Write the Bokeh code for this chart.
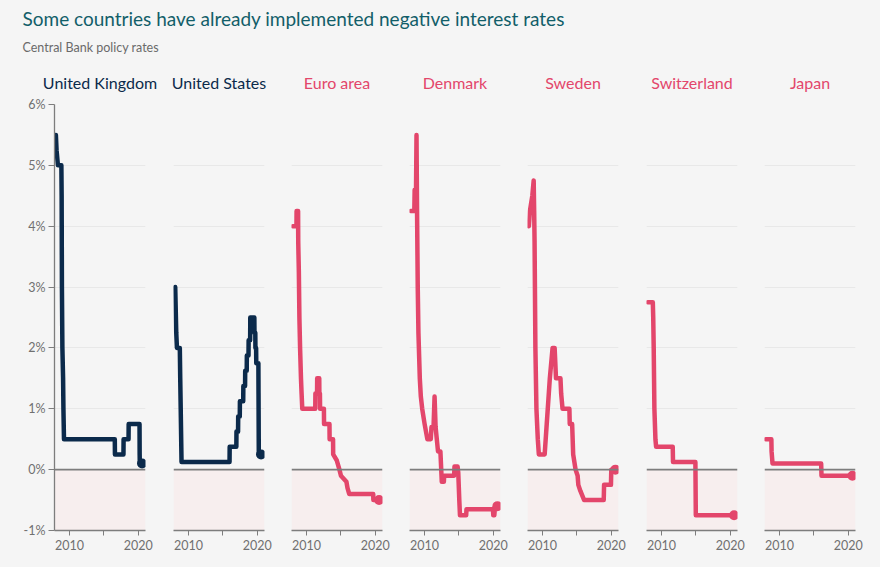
from bokeh.plotting import figure
from bokeh.layouts import column, row
from bokeh.models import (Range1d, FixedTicker, PrintfTickFormatter, Span,
                          BoxAnnotation, Grid)
from bokeh.core.properties import value
from bokeh.embed import file_html
from bokeh.resources import INLINE

TITLE = "Some countries have already implemented negative interest rates"
SUBTITLE = "Central Bank policy rates"

countries = ["United Kingdom", "United States", "Euro area", "Denmark",
             "Sweden", "Switzerland", "Japan"]
below_zero = [False, False, True, True, True, True, True]

uk_dates = [2008.0, 2008.1, 2008.3, 2008.8, 2008.84, 2008.88, 2008.95, 2009.05,
            2009.1, 2009.18, 2016.58, 2016.6, 2017.84, 2017.86, 2018.58, 2018.6,
            2020.18, 2020.2, 2020.22, 2020.55]
uk_rates = [5.5, 5.25, 5.0, 5.0, 4.5, 3.0, 2.0, 1.5, 1.0, 0.5, 0.5, 0.25, 0.25,
            0.5, 0.5, 0.75, 0.75, 0.25, 0.1, 0.1]

us_dates = [2008.05, 2008.2, 2008.3, 2008.72, 2008.78, 2008.85, 2008.97, 2015.96,
            2015.98, 2016.95, 2016.97, 2017.2, 2017.22, 2017.45, 2017.47, 2017.95,
            2017.97, 2018.22, 2018.24, 2018.46, 2018.48, 2018.72, 2018.74, 2018.96,
            2018.98, 2019.57, 2019.59, 2019.71, 2019.73, 2019.83, 2019.85, 2020.16,
            2020.18, 2020.22, 2020.55]
us_rates = [3.0, 2.25, 2.0, 2.0, 1.5, 1.0, 0.125, 0.125, 0.375, 0.375, 0.625,
            0.625, 0.875, 0.875, 1.125, 1.125, 1.375, 1.375, 1.625, 1.625, 1.875,
            1.875, 2.125, 2.125, 2.5, 2.5, 2.25, 2.25, 2.0, 2.0, 1.75, 1.75, 1.25,
            0.25, 0.25]

ea_dates = [2008.0, 2008.52, 2008.54, 2008.76, 2008.78, 2008.87, 2008.95, 2009.05,
            2009.18, 2009.27, 2009.37, 2011.26, 2011.28, 2011.52, 2011.54, 2011.84,
            2011.86, 2011.94, 2011.96, 2012.52, 2012.54, 2013.33, 2013.35, 2013.85,
            2013.87, 2014.4, 2014.78, 2015.0, 2015.8, 2015.95, 2016.2, 2019.7,
            2019.72, 2020.55]
ea_rates = [4.0, 4.0, 4.25, 4.25, 3.75, 3.25, 2.5, 2.0, 1.5, 1.25, 1.0, 1.0, 1.25,
            1.25, 1.5, 1.5, 1.25, 1.25, 1.0, 1.0, 0.75, 0.75, 0.5, 0.5, 0.25, 0.15,
            0.0, -0.1, -0.2, -0.3, -0.4, -0.4, -0.5, -0.5]

dk_dates = [2008.0, 2008.5, 2008.55, 2008.75, 2008.82, 2008.9, 2009.0, 2009.1,
            2009.3, 2009.45, 2009.65, 2010.0, 2010.4, 2010.9, 2011.0, 2011.3,
            2011.45, 2011.6, 2011.95, 2012.3, 2012.5, 2012.8, 2012.85, 2014.3,
            2014.35, 2014.8, 2014.9, 2015.05, 2015.15, 2016.05, 2016.1, 2019.95,
            2020.0, 2020.15, 2020.25, 2020.6]
dk_rates = [4.25, 4.25, 4.6, 4.6, 5.5, 4.25, 3.0, 2.25, 1.5, 1.2, 1.0, 0.75, 0.5,
            0.5, 0.7, 0.7, 1.2, 0.7, 0.3, 0.3, -0.2, -0.2, -0.1, -0.1, 0.05, 0.05,
            -0.05, -0.5, -0.75, -0.75, -0.65, -0.65, -0.75, -0.75, -0.6, -0.6]

se_dates = [2008.0, 2008.15, 2008.5, 2008.7, 2008.77, 2008.83, 2008.95, 2009.1,
            2009.3, 2009.45, 2010.3, 2010.45, 2010.6, 2010.75, 2010.9, 2011.05,
            2011.25, 2011.45, 2011.75, 2011.85, 2011.95, 2012.6, 2012.7, 2012.9,
            2013.9, 2013.95, 2014.3, 2014.45, 2014.8, 2015.1, 2015.2, 2015.5,
            2016.05, 2018.9, 2018.95, 2019.95, 2020.0, 2020.6]
se_rates = [4.0, 4.25, 4.5, 4.75, 4.25, 3.75, 2.0, 1.0, 0.5, 0.25, 0.25, 0.5, 0.75,
            1.0, 1.25, 1.5, 1.75, 2.0, 2.0, 1.75, 1.5, 1.5, 1.25, 1.0, 1.0, 0.75,
            0.75, 0.25, 0.0, -0.1, -0.25, -0.35, -0.5, -0.5, -0.25, -0.25, 0.0, 0.0]

ch_dates = [2008.0, 2008.72, 2008.78, 2008.85, 2008.95, 2009.1, 2009.2, 2011.62,
            2011.66, 2014.92, 2014.98, 2020.55]
ch_rates = [2.75, 2.75, 2.5, 2.0, 1.0, 0.5, 0.375, 0.375, 0.125, 0.125, -0.75, -0.75]

jp_dates = [2008.0, 2008.8, 2008.83, 2008.97, 2016.05, 2016.1, 2020.6]
jp_rates = [0.5, 0.5, 0.3, 0.1, 0.1, -0.1, -0.1]

year_ticks = [2010, 2015, 2020]
rate_ticks = [-1, 0, 1, 2, 3, 4, 5, 6]

series = list(zip(countries, below_zero,
                  [uk_dates, us_dates, ea_dates, dk_dates, se_dates, ch_dates, jp_dates],
                  [uk_rates, us_rates, ea_rates, dk_rates, se_rates, ch_rates, jp_rates]))

# styling
BG = "#f5f5f5"
NAVY = "#0b2a4b"
PINK = "#e3466b"
TEAL = "#125e69"
AXIS_GREY = "#7d7d7d"
LABEL_GREY = "#707070"
FONT = "Lato"

X0, X1 = 2007.8, 2021.05
Y0, Y1 = -1.0, 6.0

# (total width, left border, right border) of each small multiple
panel_sizes = [(159, 54, 14), (118, 14, 13), (118, 14, 13), (118, 14, 13),
               (119, 14, 14), (118, 14, 13), (130, 14, 25)]
HEADER_H = 92
PANEL_H = 567 - HEADER_H

# horizontal centre of each panel's plotting area, in page pixels
centres = []
left = 0
for w, bl, br in panel_sizes:
    centres.append(left + bl + (w - bl - br) / 2)
    left += w

# header: chart title, subtitle and one heading per panel
header = figure(width=880, height=HEADER_H, x_range=Range1d(0, 880),
                y_range=Range1d(HEADER_H, 0),
                toolbar_location=None, output_backend="svg", min_border=0,
                x_axis_location=None, y_axis_location=None,
                background_fill_color=BG, border_fill_color=BG, outline_line_color=None)
header.grid.visible = False
header.text(x=[22], y=[18], text=[TITLE], text_font=value(FONT), text_font_size="19px",
            text_color=TEAL, text_baseline="middle", text_align="left")
header.text(x=[22], y=[47], text=[SUBTITLE], text_font=value(FONT), text_font_size="12.5px",
            text_color="#6a6a6a", text_baseline="middle", text_align="left")
header.text(x=centres, y=[82] * len(countries), text=countries,
            text_color=[PINK if n else NAVY for n in below_zero],
            text_font=value(FONT), text_font_size="16px",
            text_baseline="middle", text_align="center")

panels = []
for i, (name, neg, dates, rates) in enumerate(series):
    w, bl, br = panel_sizes[i]
    color = PINK if neg else NAVY
    p = figure(width=w, height=PANEL_H, x_range=Range1d(X0, X1), y_range=Range1d(Y0, Y1),
               toolbar_location=None, output_backend="svg",
               y_axis_location="left" if i == 0 else None,
               min_border_left=bl, min_border_right=br, min_border_top=12,
               min_border_bottom=37,
               background_fill_color=BG, border_fill_color=BG, outline_line_color=None)
    p.xgrid.visible = False
    p.ygrid.visible = False
    p.add_layout(Grid(dimension=1, ticker=FixedTicker(ticks=rate_ticks[2:]),
                      grid_line_color="#e8e8e8", grid_line_width=1))

    # shaded band below zero and the zero line
    p.add_layout(BoxAnnotation(bottom=-1, top=0, fill_color="#f7eeee", fill_alpha=1,
                               line_color=None, level="underlay"))
    p.add_layout(Span(location=0, dimension="width", line_color=AXIS_GREY, line_width=1.6))

    xa = p.xaxis[0]
    xa.ticker = FixedTicker(ticks=year_ticks)
    xa.major_label_overrides = {2015: ""}
    xa.minor_tick_line_color = None
    xa.major_tick_in = 0
    xa.major_tick_out = 5
    xa.axis_line_color = AXIS_GREY
    xa.major_tick_line_color = AXIS_GREY
    xa.axis_line_width = 1.3
    xa.major_label_text_font = FONT
    xa.major_label_text_font_size = "12.5px"
    xa.major_label_text_color = LABEL_GREY
    xa.major_label_standoff = 4

    if i == 0:
        ya = p.yaxis[0]
        ya.ticker = FixedTicker(ticks=rate_ticks)
        ya.formatter = PrintfTickFormatter(format="%d%%")
        ya.minor_tick_line_color = None
        ya.major_tick_in = 0
        ya.major_tick_out = 6
        ya.axis_line_color = AXIS_GREY
        ya.major_tick_line_color = AXIS_GREY
        ya.axis_line_width = 1.3
        ya.major_label_text_font = FONT
        ya.major_label_text_font_size = "12.5px"
        ya.major_label_text_color = LABEL_GREY
        ya.major_label_standoff = 3

    p.line(dates, rates, line_color=color, line_width=4.5, line_join="round",
           line_cap="round")
    p.scatter([dates[-1]], [rates[-1]], size=10, fill_color=color, line_color=None)
    panels.append(p)

layout = column(header, row(*panels, spacing=0, styles={"background-color": BG}),
                spacing=0, styles={"background-color": BG})
open("out.html", "w").write(file_html(layout, INLINE))
